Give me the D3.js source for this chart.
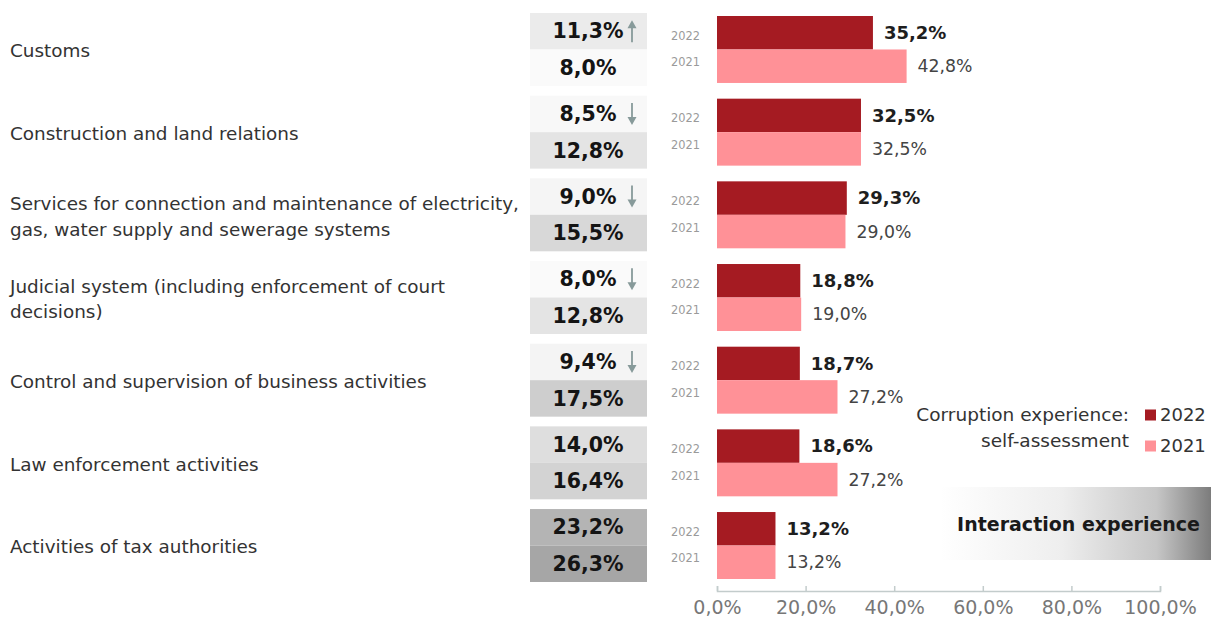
<!DOCTYPE html>
<html>
<head>
<meta charset="utf-8">
<script src="https://cdn.jsdelivr.net/npm/d3@7"></script>
<style>
  html, body { margin: 0; padding: 0; background: #fff; }
  svg { display: block; font-family: "DejaVu Sans", Verdana, sans-serif; }
</style>
</head>
<body>
<svg id="chart" width="1211" height="626"></svg>
<script>
// ---- data ----
const categories = [
  "Customs",
  "Construction and land relations",
  "Services for connection and maintenance of electricity,\ngas, water supply and sewerage systems",
  "Judicial system (including enforcement of court\ndecisions)",
  "Control and supervision of business activities",
  "Law enforcement activities",
  "Activities of tax authorities"
];
const years = ["2022", "2021"];
const corruption2022 = [35.2, 32.5, 29.3, 18.8, 18.7, 18.6, 13.2];
const corruption2021 = [42.8, 32.5, 29.0, 19.0, 27.2, 27.2, 13.2];
const interaction2022 = [11.3, 8.5, 9.0, 8.0, 9.4, 14.0, 23.2];
const interaction2021 = [8.0, 12.8, 15.5, 12.8, 17.5, 16.4, 26.3];
const trend = ["up", "down", "down", "down", "down", null, null];
const xTicks = [0, 20, 40, 60, 80, 100];
const legendTitle = ["Corruption experience:", "self-assessment"];
const boxTitle = "Interaction experience";

// ---- helpers ----
const fmt = v => d3.format(".1f")(v).replace(".", ",") + "%";
const colors = { "2022": "#a51b22", "2021": "#ff9197" };

const svg = d3.select("#chart");

const x = d3.scaleLinear().domain([0, 100]).range([717, 1160]);
const y = d3.scaleBand().domain(categories).range([16, 579]).paddingInner(0.19).paddingOuter(0);
const yYear = d3.scaleBand().domain(years).range([0, y.bandwidth()]);
const yCell = d3.scaleBand().domain(years).range([-3, y.bandwidth() + 3]);
const cellShade = d3.scaleLinear().domain([8, 26.3]).range(["#fafafa", "#a6a6a6"]);

const rows = categories.map((c, i) => ({
  cat: c,
  corr: { "2022": corruption2022[i], "2021": corruption2021[i] },
  inter: { "2022": interaction2022[i], "2021": interaction2021[i] },
  trend: trend[i]
}));

// ---- gradient box ----
const defs = svg.append("defs");
const grad = defs.append("linearGradient").attr("id", "boxGrad").attr("x1", 0).attr("x2", 1).attr("y1", 0).attr("y2", 0);
grad.append("stop").attr("offset", "0").attr("stop-color", "#ffffff");
grad.append("stop").attr("offset", "0.45").attr("stop-color", "#eeeeee");
grad.append("stop").attr("offset", "0.8").attr("stop-color", "#c6c6c6");
grad.append("stop").attr("offset", "1").attr("stop-color", "#7c7c7c");
svg.append("rect").attr("x", 940).attr("y", 487).attr("width", 271).attr("height", 73).attr("fill", "url(#boxGrad)");
svg.append("text").attr("x", 1200).attr("y", 524).attr("dy", "0.35em").attr("text-anchor", "end")
  .attr("font-size", 19).attr("font-weight", "bold").attr("fill", "#1a1a1a").text(boxTitle);

// ---- groups ----
const g = svg.selectAll("g.row").data(rows).join("g").attr("class", "row")
  .attr("transform", d => `translate(0,${y(d.cat)})`);

// category labels
g.each(function(d) {
  const lines = d.cat.split("\n");
  const lh = 25.5;
  const t = d3.select(this).append("text")
    .attr("x", 10).attr("font-size", 18.4).attr("fill", "#333");
  lines.forEach((ln, k) => {
    t.append("tspan").attr("x", 10)
      .attr("y", y.bandwidth() / 2 + 1.5 + (k - (lines.length - 1) / 2) * lh)
      .attr("dy", "0.35em").text(ln);
  });
});

// interaction cells
years.forEach(yr => {
  g.append("rect")
    .attr("x", 530).attr("width", 117)
    .attr("y", yCell(yr)).attr("height", yCell.bandwidth())
    .attr("fill", d => cellShade(d.inter[yr]));
  g.append("text")
    .attr("x", 588).attr("y", yCell(yr) + yCell.bandwidth() / 2).attr("dy", "0.35em")
    .attr("text-anchor", "middle").attr("font-size", 20.5).attr("font-weight", "bold").attr("fill", "#141414")
    .text(d => fmt(d.inter[yr]));
  // year labels
  g.append("text")
    .attr("x", 700).attr("y", yYear(yr) + yYear.bandwidth() / 2 + (yr === "2022" ? 3 : -4)).attr("dy", "0.35em")
    .attr("text-anchor", "end").attr("font-size", 11.4).attr("fill", "#9a9a9a").text(yr);
  // bars
  g.append("rect")
    .attr("x", x(0)).attr("y", yYear(yr)).attr("height", yYear.bandwidth())
    .attr("width", d => x(d.corr[yr]) - x(0))
    .attr("fill", colors[yr]);
  g.append("text")
    .attr("x", d => x(d.corr[yr]) + 11).attr("y", yYear(yr) + yYear.bandwidth() / 2).attr("dy", "0.35em")
    .attr("font-size", yr === "2022" ? 18 : 17.3)
    .attr("font-weight", yr === "2022" ? "bold" : "normal")
    .attr("fill", yr === "2022" ? "#1e1e1e" : "#444")
    .text(d => fmt(d.corr[yr]));
});

// trend arrows
const arrowColor = "#879a9a";
g.filter(d => d.trend).each(function(d) {
  const cy = yCell("2022") + yCell.bandwidth() / 2;
  const ax = 632;
  const sel = d3.select(this);
  const up = d.trend === "up";
  const top = cy - 11, bot = cy + 11;
  sel.append("line").attr("x1", ax).attr("x2", ax)
    .attr("y1", up ? top + 5 : top).attr("y2", up ? bot : bot - 5)
    .attr("stroke", arrowColor).attr("stroke-width", 1.8);
  const tip = up ? top : bot;
  const base = up ? top + 8 : bot - 8;
  sel.append("path")
    .attr("d", `M${ax},${tip}L${ax - 4.5},${base}L${ax + 4.5},${base}Z`)
    .attr("fill", arrowColor);
});

// ---- axis ----
const axis = svg.append("g").attr("transform", "translate(0,591)")
  .call(d3.axisBottom(x).tickValues(xTicks).tickSize(-5).tickPadding(10).tickFormat(fmt));
axis.select(".domain").attr("stroke", "#c3cccc").attr("stroke-width", 1.5);
axis.selectAll(".tick line").attr("stroke", "#c3cccc").attr("stroke-width", 1.5);
axis.selectAll(".tick text").attr("font-size", 19).attr("fill", "#777").attr("font-family", "DejaVu Sans, Verdana, sans-serif");

// ---- legend ----
const leg = svg.append("g");
legendTitle.forEach((t, k) => {
  leg.append("text").attr("x", 1129).attr("y", 415 + k * 26).attr("dy", "0.35em")
    .attr("text-anchor", "end").attr("font-size", 18.5).attr("fill", "#333").text(t);
});
years.forEach((yr, k) => {
  const cy = 415 + k * 31;
  leg.append("rect").attr("x", 1145).attr("y", cy - 5.5).attr("width", 11).attr("height", 11).attr("fill", colors[yr]);
  leg.append("text").attr("x", 1160).attr("y", cy).attr("dy", "0.35em")
    .attr("font-size", 18).attr("fill", "#333").text(yr);
});
</script>
</body>
</html>
